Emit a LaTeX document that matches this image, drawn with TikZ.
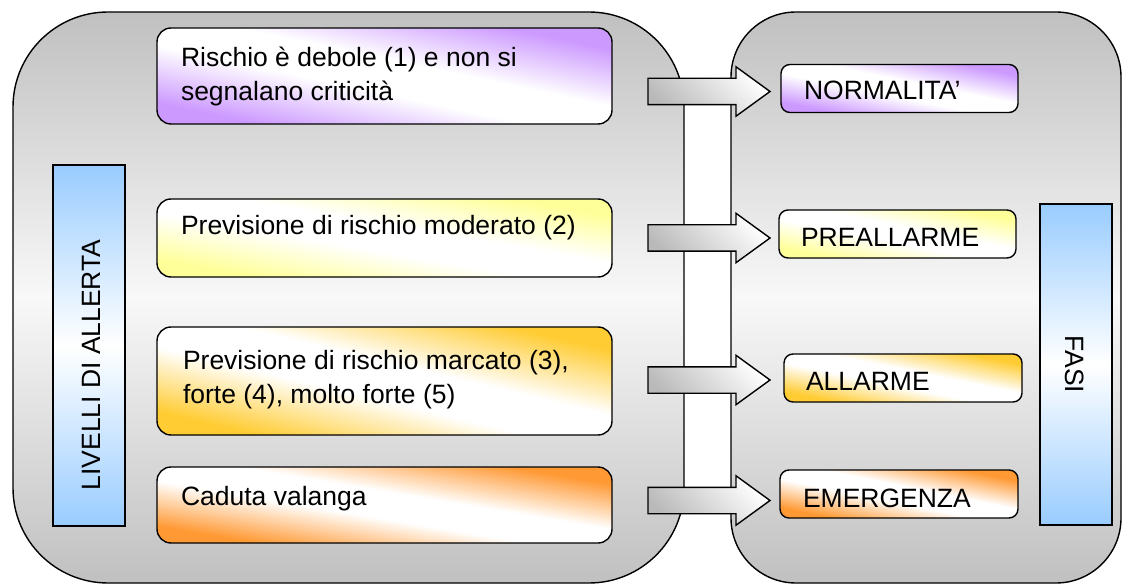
\documentclass[tikz,border=0pt]{standalone}
\usepackage{fontspec}
\setmainfont{Liberation Sans}
\usetikzlibrary{shapes.arrows}
\definecolor{blu}{HTML}{99CCFF}
\definecolor{pgray}{HTML}{C0C0C0}
\definecolor{pwhite}{HTML}{F8F8F8}
% diagonal two-corner gradient: colour at bottom-left and top-right, white band in between
\newcommand\mkdiagshade[4]{%
\pgfdeclarefunctionalshading{#1}{\pgfpoint{0bp}{0bp}}{\pgfpoint{100bp}{100bp}}{}{%
 add 50 sub 100 div 2 mul 1 sub abs 0.18 sub 0.6 div
 dup 0 lt {pop 0} if dup 1 gt {pop 1} if
 dup #2 mul 1 exch sub exch
 dup #3 mul 1 exch sub exch
 #4 mul 1 exch sub
}}
\mkdiagshade{shpurp}{0.2}{0.4}{0}
\mkdiagshade{shyel}{0}{0}{0.4}
\mkdiagshade{shgold}{0}{0.2}{0.8}
\mkdiagshade{shorng}{0}{0.4}{0.8}
\begin{document}
\begin{tikzpicture}[x=1pt,y=-1pt,
  every node/.style={inner sep=0pt, outer sep=0pt},
  panel/.style={draw=black, line width=1.4pt, rectangle, top color=pgray, bottom color=pgray, middle color=pwhite},
  lbox/.style={draw=black, line width=1.4pt, rectangle, rounded corners=14pt, minimum width=455pt, shade},
  rbox/.style={draw=black, line width=1.4pt, rectangle, rounded corners=9pt, minimum height=48pt, shade},
  sidebar/.style={draw=black, line width=1.4pt, rectangle, minimum width=72pt, top color=blu, bottom color=blu, middle color=white},
  blockarrow/.style={single arrow, draw=black, line width=1.4pt, inner xsep=0pt, inner ysep=12.5pt, minimum height=122pt, minimum width=48pt, single arrow head extend=11.5pt, single arrow tip angle=72, top color=gray!55, bottom color=white, shading angle=135, anchor=tail},
  lbl/.style={font=\fontsize{26.5pt}{34pt}\selectfont, anchor=base west, align=left, text=black},
  vlbl/.style={font=\fontsize{26.5pt}{34pt}\selectfont, anchor=center, text=black}
]
\useasboundingbox (0,0) rectangle (1129,585);
% panels
\node[panel, rounded corners=95pt, minimum width=671pt, minimum height=571pt] (lp) at (348.5,297.5) {};
\node[panel, rounded corners=65pt, minimum width=390pt, minimum height=571pt] (rp) at (926,297.5) {};
% side bars
\node[sidebar, minimum height=361pt] (lb) at (89,345.5) {};
\node[sidebar, minimum height=321pt] (fb) at (1076,364.5) {};
\node[vlbl, rotate=90] (lbt) at (91,365) {LIVELLI DI ALLERTA};
\node[vlbl, rotate=-90] (fbt) at (1075,364.5) {FASI};
% left boxes
\node[lbox, shading=shpurp, minimum height=96pt] (b1) at (384.5,76) {};
\node[lbox, shading=shyel, minimum height=78pt] (b2) at (384.5,238) {};
\node[lbox, shading=shgold, minimum height=108pt] (b3) at (384.5,381) {};
\node[lbox, shading=shorng, minimum height=76pt] (b4) at (384.5,505) {};
\node[lbl] (t1) at (181,101) {Rischio è debole (1) e non si\\segnalano criticità};
\node[lbl] (t2) at (181,235) {Previsione di rischio moderato (2)};
\node[lbl] (t3) at (183,403) {Previsione di rischio marcato (3),\\forte (4), molto forte (5)};
\node[lbl] (t4) at (181,505) {Caduta valanga};
% right boxes
\node[rbox, shading=shpurp, minimum width=237pt] (n) at (899.5,88.5) {};
\node[rbox, shading=shyel, minimum width=237pt] (p) at (897.5,234) {};
\node[rbox, shading=shgold, minimum width=238pt] (a) at (903,378) {};
\node[rbox, shading=shorng, minimum width=238pt] (e) at (899,494) {};
\node[lbl] (tn) at (804,100) {NORMALITA’};
\node[lbl] (tp) at (801,247) {PREALLARME};
\node[lbl] (ta) at (806,390) {ALLARME};
\node[lbl] (te) at (803,507) {EMERGENZA};
% block arrows
\node[blockarrow] (a1) at (648,91.5) {};
\node[blockarrow] (a2) at (648,238) {};
\node[blockarrow] (a3) at (648,380) {};
\node[blockarrow] (a4) at (648,500.5) {};
\end{tikzpicture}
\end{document}
